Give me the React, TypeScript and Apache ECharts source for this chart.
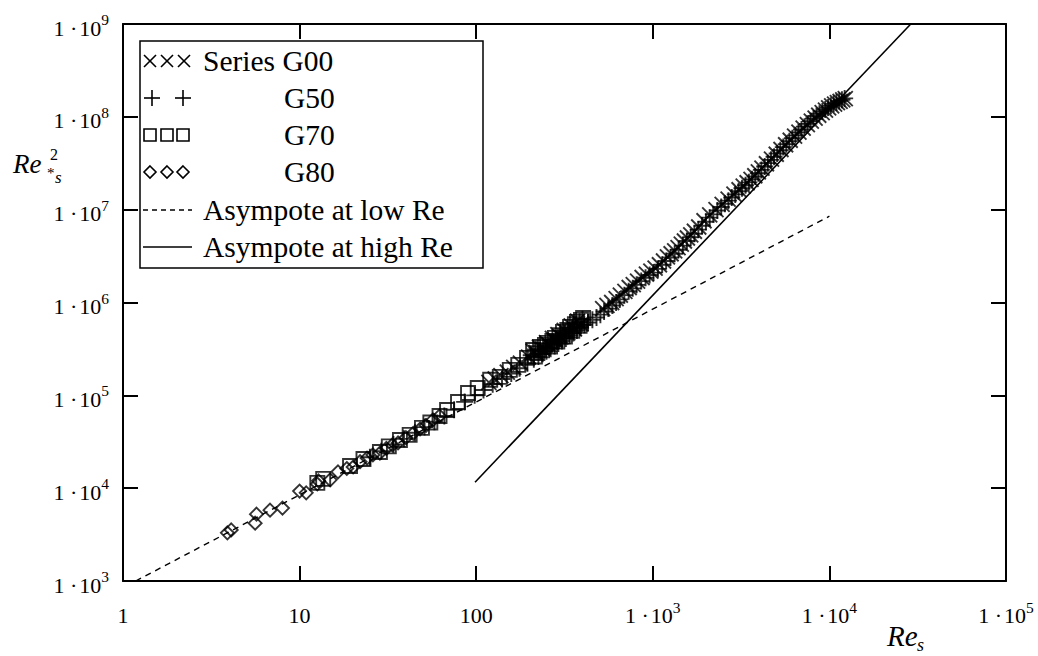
import React, { useEffect, useRef } from 'react';
import * as echarts from 'echarts';

const FONT = '"Liberation Serif", "Times New Roman", Times, serif';

// Series G00 (x marks)
const G00: number[][] = [
  [118, 138000], [128, 150000], [138, 163000], [150, 178000], [163, 200000], [178, 222000],
  [198, 258000], [210, 300000], [218, 290000], [228, 330000], [238, 318000], [250, 370000],
  [258, 352000], [270, 410000], [280, 392000], [290, 450000], [302, 425000], [315, 500000],
  [330, 470000], [345, 560000], [360, 520000], [375, 630000], [392, 585000], [520, 860000],
  [550, 930000], [585, 1.0e6], [620, 1.1e6], [655, 1.2e6], [695, 1.32e6], [735, 1.45e6],
  [775, 1.56e6], [820, 1.7e6], [870, 1.86e6], [920, 2.02e6], [975, 2.18e6], [1030, 2.35e6],
  [1090, 2.55e6], [1150, 2.8e6], [1210, 3.1e6], [1270, 3.35e6], [1330, 3.6e6], [1390, 3.9e6],
  [1450, 4.25e6], [1510, 4.6e6], [1570, 4.95e6], [1640, 5.35e6], [1720, 5.85e6], [1820, 6.5e6],
  [1950, 7.6e6], [2100, 8.8e6], [2280, 1.0e7], [2470, 1.14e7], [2670, 1.3e7], [2880, 1.47e7],
  [3080, 1.64e7], [3250, 1.79e7], [3420, 1.95e7], [3600, 2.12e7], [3780, 2.32e7], [3960, 2.55e7],
  [4150, 2.8e7], [4400, 3.12e7], [4700, 3.5e7], [5000, 3.95e7], [5320, 4.45e7], [5650, 5.0e7],
  [6000, 5.6e7], [6350, 6.2e7], [6720, 6.85e7], [7100, 7.55e7], [7500, 8.25e7], [7900, 9.0e7],
  [8300, 9.7e7], [8700, 1.04e8], [9100, 1.11e8], [9500, 1.18e8], [9900, 1.25e8], [10300, 1.31e8],
  [10700, 1.37e8], [11100, 1.42e8], [11500, 1.47e8], [11900, 1.52e8], [12300, 1.57e8],
];

// Series G50 (+ marks)
const G50: number[][] = [
  [25, 21500], [29, 25000], [34, 29500], [39, 34000], [45, 39500], [51, 45500], [58, 52000],
  [66, 60000], [75, 70000], [86, 85000], [98, 100000], [110, 114000], [124, 132000], [140, 150000],
  [158, 172000], [176, 196000], [195, 222000], [205, 270000], [212, 245000], [225, 262000],
  [232, 300000], [238, 280000], [248, 330000], [250, 298000], [264, 318000], [268, 360000],
  [278, 340000], [285, 400000], [292, 362000], [300, 440000], [306, 385000], [315, 470000],
  [322, 410000], [335, 500000], [338, 438000], [350, 540000], [355, 468000], [368, 580000],
  [372, 500000], [385, 620000], [390, 535000], [400, 660000], [410, 575000], [430, 610000],
  [455, 650000], [480, 690000], [505, 740000], [530, 800000], [560, 860000], [590, 930000],
  [620, 1.0e6], [650, 1.08e6], [690, 1.2e6], [730, 1.32e6], [770, 1.42e6], [810, 1.55e6],
  [860, 1.7e6], [910, 1.85e6], [960, 1.98e6], [1010, 2.1e6], [1070, 2.3e6], [1130, 2.55e6],
  [1190, 2.8e6], [1260, 3.05e6], [1330, 3.35e6], [1400, 3.7e6], [1480, 4.1e6], [1560, 4.6e6],
  [1640, 5.05e6], [1720, 5.5e6], [1810, 6.1e6], [1900, 6.7e6], [2000, 7.4e6], [2100, 8.2e6],
  [2200, 8.9e6], [2320, 9.8e6], [2440, 1.07e7], [2560, 1.16e7], [2680, 1.25e7], [2800, 1.35e7],
  [2930, 1.46e7], [3060, 1.58e7], [3200, 1.7e7], [3350, 1.83e7], [3500, 1.97e7], [3650, 2.12e7],
  [3800, 2.28e7], [3960, 2.47e7], [4120, 2.68e7], [4300, 2.92e7], [4480, 3.17e7], [4670, 3.44e7],
  [4860, 3.72e7], [5060, 4.03e7], [5270, 4.37e7], [5480, 4.72e7], [5700, 5.08e7], [5930, 5.47e7],
  [6170, 5.88e7], [6420, 6.32e7], [6680, 6.8e7], [6950, 7.3e7], [7230, 7.84e7], [7520, 8.4e7],
  [7820, 8.98e7], [8130, 9.6e7], [8450, 1.02e8], [8780, 1.08e8], [9120, 1.14e8], [9470, 1.2e8],
  [9830, 1.26e8], [10200, 1.32e8], [10580, 1.38e8], [10970, 1.43e8], [11370, 1.48e8],
  [11780, 1.53e8], [12200, 1.58e8],
];

// Series G70 (squares)
const G70: number[][] = [
  [12.6, 11400], [13.6, 12600], [19.3, 17300], [23.0, 20600], [28.5, 24500], [32.0, 28200],
  [37.0, 33000], [42.0, 37500], [49.3, 44600], [55.0, 51000], [62.0, 60000], [68.4, 69600],
  [78.9, 84900], [89.9, 106000], [102, 120000], [120, 147000], [136, 158000], [155, 188000],
  [173, 213000], [194, 253000], [210, 308000], [215, 262000], [222, 285000], [230, 332000],
  [236, 305000], [245, 350000], [252, 367000], [262, 335000], [270, 385000], [279, 416000],
  [288, 380000], [296, 445000], [310, 482000], [318, 430000], [328, 505000], [340, 546000],
  [350, 495000], [362, 585000], [372, 618000], [385, 560000], [392, 650000], [403, 682000],
];

// Series G80 (diamonds)
const G80: number[][] = [
  [3.9, 3300], [4.1, 3550], [5.6, 4200], [5.7, 5250], [6.8, 5800], [8.0, 6100], [10.0, 9300],
  [10.9, 8900], [12.6, 11100], [12.8, 12000], [14.9, 12300], [16.5, 15000], [18.5, 16300],
  [20.1, 16900], [22.0, 19300], [24.1, 21100], [26.0, 22800], [28.5, 23900], [31.0, 26800],
  [33.5, 29200], [36.1, 30700], [40.0, 35000], [44.0, 39000], [48.1, 43400], [52.0, 47500],
  [56.9, 54300], [62.0, 60000],
];

// Asymptotes
const LOW_ASYMPTOTE: number[][] = [[1.18, 1000], [10000, 8500000]];
const HIGH_ASYMPTOTE: number[][] = [[98.5, 11600], [28900, 1.0e9]];

const LEGEND_LABELS = ['Series G00', 'G50', 'G70', 'G80', 'Asympote at low Re', 'Asympote at high Re'];

const X_MIN = 1;
const X_MAX = 1e5;
const Y_MIN = 1e3;
const Y_MAX = 1e9;

function tickLabel(v: number, allowPlain: boolean): string {
  const e = Math.round(Math.log10(v));
  if (allowPlain && e < 3) return `{b|${Math.round(Math.pow(10, e))}}`;
  return `{b|1 ·\u200a10}{s|${e}}`;
}

const rich = {
  b: { fontFamily: FONT, fontSize: 22, color: '#000', lineHeight: 32 },
  s: { fontFamily: FONT, fontSize: 15.5, color: '#000', padding: [0, 0, 17, 0] },
};

function buildLegend(): any[] {
  const els: any[] = [];
  const stroke = { stroke: '#000', lineWidth: 1.6, fill: 'none' };
  els.push({
    type: 'rect', z: 100,
    shape: { x: 140, y: 41, width: 343, height: 227 },
    style: { fill: '#fff', stroke: '#000', lineWidth: 1.5 },
  });
  const rows = [61, 98, 135, 172, 210, 247];
  [150, 167, 184].forEach((cx) => {
    const cy = rows[0];
    els.push({ type: 'line', z: 101, shape: { x1: cx - 6, y1: cy - 6, x2: cx + 6, y2: cy + 6 }, style: stroke });
    els.push({ type: 'line', z: 101, shape: { x1: cx - 6, y1: cy + 6, x2: cx + 6, y2: cy - 6 }, style: stroke });
  });
  [152, 183].forEach((cx) => {
    const cy = rows[1];
    els.push({ type: 'line', z: 101, shape: { x1: cx - 8, y1: cy, x2: cx + 8, y2: cy }, style: stroke });
    els.push({ type: 'line', z: 101, shape: { x1: cx, y1: cy - 8, x2: cx, y2: cy + 8 }, style: stroke });
  });
  [150, 167, 183].forEach((cx) => {
    const cy = rows[2];
    els.push({ type: 'rect', z: 101, shape: { x: cx - 6, y: cy - 6, width: 12, height: 12 }, style: stroke });
  });
  [150, 167, 183].forEach((cx) => {
    const cy = rows[3];
    els.push({
      type: 'polygon', z: 101,
      shape: { points: [[cx, cy - 6], [cx + 6, cy], [cx, cy + 6], [cx - 6, cy]] },
      style: stroke,
    });
  });
  els.push({ type: 'line', z: 101, shape: { x1: 143, y1: rows[4], x2: 192, y2: rows[4] }, style: { stroke: '#000', lineWidth: 1.3, lineDash: [5, 4] } });
  els.push({ type: 'line', z: 101, shape: { x1: 143, y1: rows[5], x2: 192, y2: rows[5] }, style: { stroke: '#000', lineWidth: 1.5 } });
  const textX = [203, 284, 284, 284, 203, 203];
  LEGEND_LABELS.forEach((t, i) => {
    els.push({
      type: 'text', z: 102, x: textX[i], y: rows[i],
      style: { text: t, fontFamily: FONT, fontSize: 29.5, fill: '#000', align: 'left', verticalAlign: 'middle' },
    });
  });
  return els;
}

function buildAxisNames(): any[] {
  return [
    { type: 'text', x: 13, y: 164, style: { text: 'Re', fontFamily: FONT, fontStyle: 'italic', fontSize: 27, fill: '#000', align: 'left', verticalAlign: 'middle' } },
    { type: 'text', x: 50, y: 154, style: { text: '2', fontFamily: FONT, fontSize: 16, fill: '#000', align: 'left', verticalAlign: 'middle' } },
    { type: 'text', x: 47, y: 173, style: { text: '*', fontFamily: FONT, fontSize: 15, fill: '#000', align: 'left', verticalAlign: 'middle' } },
    { type: 'text', x: 55, y: 177, style: { text: 's', fontFamily: FONT, fontStyle: 'italic', fontSize: 17, fill: '#000', align: 'left', verticalAlign: 'middle' } },
    { type: 'text', x: 887, y: 636, style: { text: 'Re', fontFamily: FONT, fontStyle: 'italic', fontSize: 29, fill: '#000', align: 'left', verticalAlign: 'middle' } },
    { type: 'text', x: 917, y: 645, style: { text: 's', fontFamily: FONT, fontStyle: 'italic', fontSize: 18, fill: '#000', align: 'left', verticalAlign: 'middle' } },
  ];
}

export default function App() {
  const ref = useRef<HTMLDivElement>(null);
  useEffect(() => {
    if (!ref.current) return;
    const chart = echarts.init(ref.current, null, { renderer: 'svg' });
    const axisLine = { show: true, lineStyle: { color: '#000', width: 2 } };
    const axisTick = { show: true, inside: true, length: 15, lineStyle: { color: '#000', width: 2 } };
    const symStyle = { color: 'rgba(0,0,0,0)', borderColor: '#000', borderWidth: 1.9 };
    const option: any = {
      animation: false,
      backgroundColor: '#fff',
      grid: { left: 123, right: 32, top: 24, bottom: 75, containLabel: false, outerBoundsMode: 'none' },
      xAxis: [
        {
          type: 'log', logBase: 10, min: X_MIN, max: X_MAX, position: 'bottom',
          axisLine, axisTick, splitLine: { show: false }, minorTick: { show: false },
          axisLabel: { show: true, margin: 18, formatter: (v: number) => tickLabel(v, true), rich },
        },
        {
          type: 'log', logBase: 10, min: X_MIN, max: X_MAX, position: 'top',
          axisLine, axisTick, splitLine: { show: false }, axisLabel: { show: false },
        },
      ],
      yAxis: [
        {
          type: 'log', logBase: 10, min: Y_MIN, max: Y_MAX, position: 'left',
          axisLine, axisTick, splitLine: { show: false },
          axisLabel: { show: true, margin: 14, padding: [8, 0, 0, 0], formatter: (v: number) => tickLabel(v, false), rich },
        },
        {
          type: 'log', logBase: 10, min: Y_MIN, max: Y_MAX, position: 'right',
          axisLine, axisTick, splitLine: { show: false }, axisLabel: { show: false },
        },
      ],
      series: [
        { name: 'Asympote at low Re', type: 'line', data: LOW_ASYMPTOTE, showSymbol: false, symbol: 'none', lineStyle: { color: '#000', width: 1.4, type: [6, 5] }, z: 1 },
        { name: 'Asympote at high Re', type: 'line', data: HIGH_ASYMPTOTE, showSymbol: false, symbol: 'none', lineStyle: { color: '#000', width: 1.6 }, z: 1 },
        { name: 'G80', type: 'scatter', data: G80, symbol: 'diamond', symbolSize: 13, itemStyle: symStyle, z: 2 },
        { name: 'G70', type: 'scatter', data: G70, symbol: 'rect', symbolSize: 14, itemStyle: symStyle, z: 2 },
        { name: 'G50', type: 'scatter', data: G50, symbol: 'path://M5 0L5 10M0 5L10 5', symbolSize: 17, itemStyle: symStyle, z: 2 },
        { name: 'G00', type: 'scatter', data: G00, symbol: 'path://M0 0L10 10M10 0L0 10', symbolSize: 15, itemStyle: symStyle, z: 2 },
      ],
      graphic: [...buildLegend(), ...buildAxisNames()],
    };
    chart.setOption(option);
    return () => chart.dispose();
  }, []);
  return (
    <div
      ref={ref}
      style={{ position: 'fixed', left: 0, top: 0, width: 1038, height: 656, background: '#fff' }}
    />
  );
}
